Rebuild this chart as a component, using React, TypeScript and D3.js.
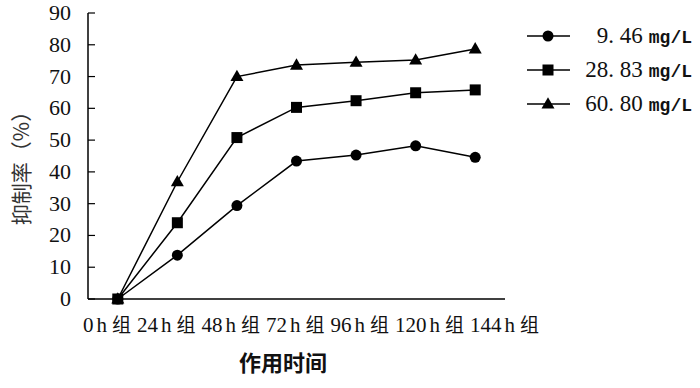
import React from "react";
import * as d3 from "d3";

const categories = ["0h 组", "24h 组", "48h 组", "72h 组", "96h 组", "120h 组", "144h 组"];
const yTicks = [0, 10, 20, 30, 40, 50, 60, 70, 80, 90];

const seriesLow = [0, 13.8, 29.4, 43.4, 45.3, 48.2, 44.6];
const seriesMid = [0, 24.0, 50.8, 60.3, 62.4, 64.9, 65.8];
const seriesHigh = [0, 36.9, 70.0, 73.6, 74.5, 75.2, 78.7];

const seriesNames = ["9. 46", "28. 83", "60. 80"];
const unit = "mg/L";

const W = 700;
const H = 388;
const left = 88;
const right = 505;
const top = 13;
const bottom = 299;

const css = `
  .ser { font-family: "Liberation Serif", "Times New Roman"; }
  .cjk { font-family: "Noto Sans CJK SC"; }
  .mono { font-family: "Liberation Mono"; font-weight: bold; }
`;

export default function App() {
  const x = d3.scaleBand<string>().domain(categories).range([left, right]);
  const y = d3.scaleLinear().domain([0, 90]).range([bottom, top]);
  const cx = (c: string) => (x(c) as number) + x.bandwidth() / 2;

  const line = d3
    .line<number>()
    .x((_, i) => cx(categories[i]))
    .y((v) => y(v));

  const series = [
    { name: seriesNames[0], values: seriesLow, shape: "circle" },
    { name: seriesNames[1], values: seriesMid, shape: "square" },
    { name: seriesNames[2], values: seriesHigh, shape: "triangle" },
  ];

  const marker = (shape: string, px: number, py: number, key: string) => {
    if (shape === "circle") return <circle key={key} cx={px} cy={py} r={5.5} fill="#000" />;
    if (shape === "square")
      return <rect key={key} x={px - 5.5} y={py - 5.5} width={11} height={11} fill="#000" />;
    const s = 13;
    const h = s * 0.87;
    return (
      <path
        key={key}
        d={`M${px},${py - h * 0.6} L${px + s / 2},${py + h * 0.4} L${px - s / 2},${py + h * 0.4} Z`}
        fill="#000"
      />
    );
  };

  return (
    <svg width={W} height={H} style={{ position: "absolute", left: 0, top: 0, background: "#fff" }}>
      <style>{css}</style>
      {/* axes */}
      <line x1={left} y1={top} x2={left} y2={bottom} stroke="#000" strokeWidth={1.5} />
      <line x1={left} y1={bottom} x2={right} y2={bottom} stroke="#000" strokeWidth={1.5} />
      {yTicks.map((t) => (
        <g key={t}>
          <line x1={left} y1={y(t)} x2={left + 7} y2={y(t)} stroke="#000" strokeWidth={1.2} />
          <text x={left - 17} y={y(t) + 7} textAnchor="end" className="ser" fontSize={22} fill="#111">
            {t}
          </text>
        </g>
      ))}

      {/* category labels flow as one line */}
      <text x={83} y={332} className="ser" fontSize={21} fill="#111">
        {categories.map((c, i) => {
          const [num, grp] = c.split(" ");
          const digits = num.slice(0, -1);
          return (
            <tspan key={c} dx={i === 0 ? 0 : 6}>
              {digits}
              <tspan dx={3}>h</tspan>
              <tspan dx={5} className="cjk" fontSize={19}>
                {grp}
              </tspan>
            </tspan>
          );
        })}
      </text>

      <text x={283} y={371} textAnchor="middle" className="cjk" fontWeight="bold" fontSize={22} fill="#111">
        作用时间
      </text>

      <text transform={`translate(29,163) rotate(-90)`} textAnchor="middle" className="cjk" fontSize={21} fill="#333">
        抑制率（%）
      </text>

      {/* series */}
      {series.map((s) => (
        <g key={s.name}>
          <path d={line(s.values) || ""} fill="none" stroke="#000" strokeWidth={1.5} />
          {s.values.map((v, i) => marker(s.shape, cx(categories[i]), y(v), `${s.name}-${i}`))}
        </g>
      ))}

      {/* legend */}
      {series.map((s, i) => {
        const ly = 36 + i * 34;
        return (
          <g key={`lg-${s.name}`}>
            <line x1={527} y1={ly} x2={570} y2={ly} stroke="#000" strokeWidth={1.5} />
            {marker(s.shape, 548, ly, `lm-${i}`)}
            <text x={692} y={ly + 7} textAnchor="end" fill="#111">
              <tspan className="ser" fontSize={23}>
                {s.name}
              </tspan>
              <tspan dx={6} className="mono" fontSize={18}>
                {unit}
              </tspan>
            </text>
          </g>
        );
      })}
    </svg>
  );
}
